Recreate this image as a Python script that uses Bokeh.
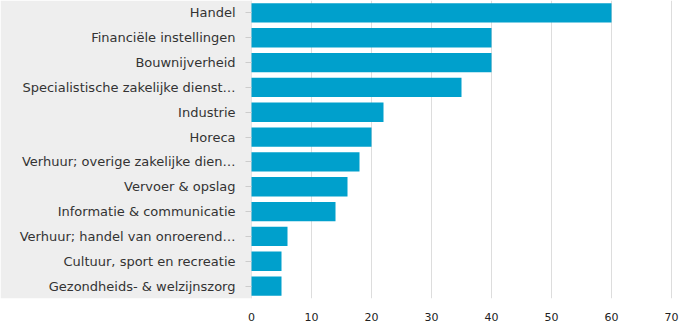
from bokeh.plotting import figure
from bokeh.models import Range1d, FactorRange, BoxAnnotation, FixedTicker, ColumnDataSource
from bokeh.embed import file_html
from bokeh.resources import INLINE

categories = [
    "Handel",
    "Financiële instellingen",
    "Bouwnijverheid",
    "Specialistische zakelijke dienst…",
    "Industrie",
    "Horeca",
    "Verhuur; overige zakelijke dien…",
    "Vervoer & opslag",
    "Informatie & communicatie",
    "Verhuur; handel van onroerend…",
    "Cultuur, sport en recreatie",
    "Gezondheids- & welzijnszorg",
]
values = [60, 40, 40, 35, 22, 20, 18, 16, 14, 6, 5, 5]
x_ticks = [0, 10, 20, 30, 40, 50, 60, 70]

source = ColumnDataSource(dict(cat=categories, val=values))

p = figure(
    width=700, height=329,
    y_range=FactorRange(*reversed(categories)),
    x_range=Range1d(-251 / 6, 70.5),
    output_backend="svg", toolbar_location=None,
    min_border_left=0, min_border_right=26, min_border_top=0, min_border_bottom=31,
)
p.outline_line_color = None
p.background_fill_color = "white"
p.border_fill_color = "white"

p.add_layout(BoxAnnotation(right=0, fill_color="#eeeeee", fill_alpha=1, line_color=None, level="underlay"))

p.hbar(y="cat", right="val", left=0, height=0.78, source=source, color="#00a0cc", line_color=None)

p.xaxis.ticker = FixedTicker(ticks=x_ticks)
p.xaxis.axis_line_color = None
p.xaxis.major_tick_line_color = None
p.xaxis.minor_tick_line_color = None
p.xaxis.major_label_text_font = "DejaVu Sans"
p.xaxis.major_label_text_font_size = "11px"
p.xaxis.major_label_text_color = "#222222"
p.xaxis.major_label_standoff = 8

p.yaxis.fixed_location = 0
p.yaxis.axis_line_color = None
p.yaxis.major_tick_line_color = "#cccccc"
p.yaxis.major_tick_out = 6
p.yaxis.major_tick_in = 0
p.yaxis.major_label_text_font = "DejaVu Sans"
p.yaxis.major_label_text_font_size = "13px"
p.yaxis.major_label_text_color = "#333333"
p.yaxis.major_label_standoff = 10

p.ygrid.grid_line_color = None
p.xgrid.grid_line_color = "#dddddd"
p.xgrid.ticker = FixedTicker(ticks=x_ticks)

open("out.html", "w").write(file_html(p, INLINE))
